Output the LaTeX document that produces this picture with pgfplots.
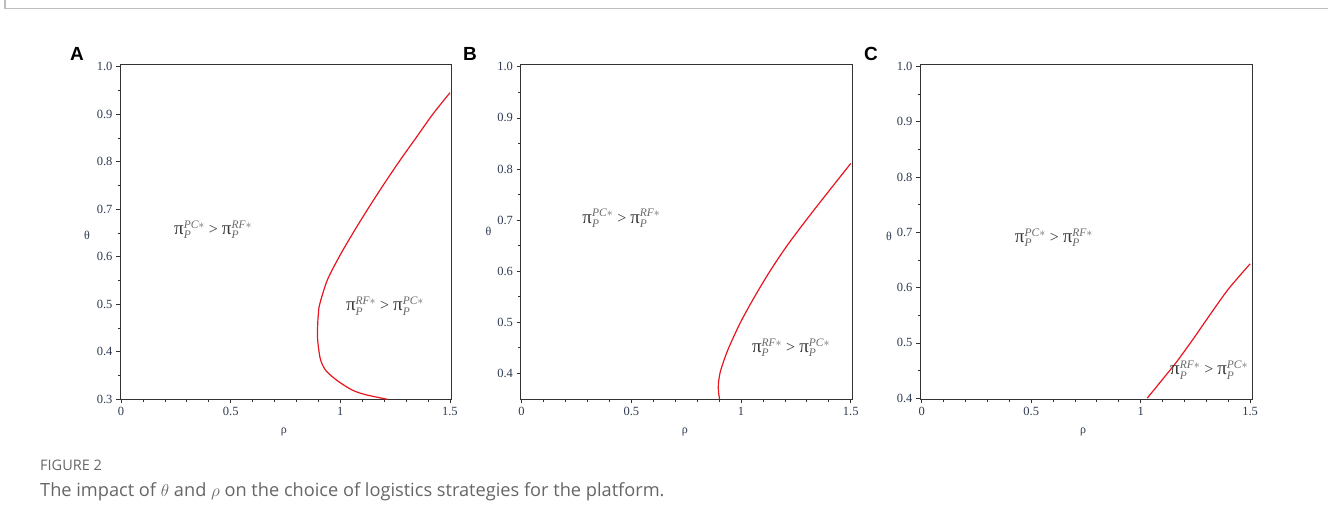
\documentclass[border=0pt]{standalone}
\usepackage{fontspec}
\usepackage{amsmath}
\setmainfont{Liberation Serif}
\newfontfamily\capfont{Open Sans}
\newfontfamily\letterfont{Liberation Sans}
\usepackage{pgfplots}
\pgfplotsset{compat=1.18}
\definecolor{axgray}{HTML}{333333}
\definecolor{ticklab}{HTML}{2E3A50}
\definecolor{curve}{HTML}{E8141E}
\definecolor{lbl}{HTML}{383838}
\definecolor{lblsc}{HTML}{6A6A6A}
\definecolor{framegray}{HTML}{BDBDBD}
\definecolor{capgray}{HTML}{666666}
\newcommand{\pis}[1]{{\fontsize{19}{20}\selectfont π}{\color{lblsc}${\vphantom{\rule[-2.5pt]{0pt}{12.5pt}}}^{\text{\fontsize{11.5}{12}\selectfont\itshape #1$\ast$}}_{\text{\fontsize{11.5}{12}\selectfont\itshape P}}$}}
\newcommand{\pilab}[2]{{\fontsize{16}{18}\selectfont\color{lbl}\pis{#1}\ >\ \pis{#2}}}
\pgfplotsset{maple/.style={
  scale only axis, clip=false, anchor=south west,
  axis line style={draw=axgray, line width=1pt},
  tick align=outside, xtick pos=left, ytick pos=left,
  major tick length=4pt, minor tick length=2.5pt,
  every tick/.style={draw=axgray, line width=0.8pt},
  xtick={0,0.5,1,1.5}, xticklabels={0,0.5,1,1.5},
  minor xtick={0.1,0.2,0.3,0.4,0.6,0.7,0.8,0.9,1.1,1.2,1.3,1.4},
  yticklabel={\pgfmathprintnumber[fixed,fixed zerofill,precision=1]{\tick}},
  ticklabel style={font=\rmfamily\fontsize{12.5}{14}\selectfont, text=ticklab},
  /pgf/number format/assume math mode=true,
  height=335pt,
}}
\begin{document}
\begin{tikzpicture}
\path[use as bounding box] (0pt,0pt) rectangle (1328pt,527pt);
\draw[framegray, line width=1.8pt] (5pt,527pt) -- (5pt,518.5pt) -- (1328pt,518.5pt);

% Panel A
\begin{axis}[maple, at={(120pt,127.7pt)}, width=331pt,
  xmin=-0.005, xmax=1.505, ymin=0.3, ymax=1.005,
  ytick={0.3,0.4,0.5,0.6,0.7,0.8,0.9,1.0},
  minor ytick={0.35,0.45,0.55,0.65,0.75,0.85,0.95}]
\addplot[curve, line width=1.2pt, smooth, tension=0.5] coordinates {
(1.215,0.300) (1.113,0.310) (1.052,0.320) (0.984,0.340) (0.935,0.360)
(0.912,0.380) (0.903,0.400) (0.896,0.430) (0.897,0.460) (0.900,0.480)
(0.906,0.500) (0.940,0.550) (0.995,0.600) (1.058,0.650) (1.125,0.700)
(1.195,0.750) (1.268,0.800) (1.345,0.850) (1.422,0.900) (1.500,0.945)};
\node at (axis cs:0.42,0.657) {\pilab{PC}{RF}};
\node at (axis cs:1.204,0.496) {\pilab{RF}{PC}};
\node[font=\fontsize{12}{14}\selectfont, text=ticklab] at (rel axis cs:0,0.49) [xshift=-33pt] {θ};
\node[font=\fontsize{12}{14}\selectfont, text=ticklab] at (rel axis cs:0.495,0) [yshift=-33pt] {ρ};
\end{axis}
\node[font=\letterfont\bfseries\fontsize{19}{22}\selectfont] at (77pt,473pt) {A};

% Panel B
\begin{axis}[maple, at={(520.5pt,127.7pt)}, width=332pt,
  xmin=-0.005, xmax=1.508, ymin=0.349, ymax=1.005,
  ytick={0.4,0.5,0.6,0.7,0.8,0.9,1.0},
  minor ytick={0.45,0.55,0.65,0.75,0.85,0.95}]
\addplot[curve, line width=1.2pt, smooth, tension=0.5] coordinates {
(0.902,0.350) (0.897,0.365) (0.897,0.380) (0.904,0.400) (0.918,0.420)
(0.944,0.450) (0.998,0.500) (1.062,0.550) (1.132,0.600) (1.210,0.650)
(1.297,0.700) (1.388,0.750) (1.480,0.800) (1.500,0.811)};
\node at (axis cs:0.455,0.7035) {\pilab{PC}{RF}};
\node at (axis cs:1.228,0.45) {\pilab{RF}{PC}};
\node[font=\fontsize{12}{14}\selectfont, text=ticklab] at (rel axis cs:0,0.5) [xshift=-32pt] {θ};
\node[font=\fontsize{12}{14}\selectfont, text=ticklab] at (rel axis cs:0.495,0) [yshift=-33pt] {ρ};
\end{axis}
\node[font=\letterfont\bfseries\fontsize{19}{22}\selectfont] at (470pt,473pt) {B};

% Panel C
\begin{axis}[maple, at={(920pt,127.7pt)}, width=332.7pt,
  xmin=-0.008, xmax=1.512, ymin=0.398, ymax=1.004,
  ytick={0.4,0.5,0.6,0.7,0.8,0.9,1.0},
  minor ytick={0.45,0.55,0.65,0.75,0.85,0.95}]
\addplot[curve, line width=1.2pt, smooth, tension=0.4] coordinates {
(1.030,0.400) (1.100,0.434) (1.165,0.466) (1.240,0.507) (1.317,0.551)
(1.400,0.597) (1.500,0.643)};
\node at (axis cs:0.604,0.69) {\pilab{PC}{RF}};
\node at (axis cs:1.313,0.451) {\pilab{RF}{PC}};
\node[font=\fontsize{12}{14}\selectfont, text=ticklab] at (rel axis cs:0,0.487) [xshift=-31pt] {θ};
\node[font=\fontsize{12}{14}\selectfont, text=ticklab] at (rel axis cs:0.49,0) [yshift=-33pt] {ρ};
\end{axis}
\node[font=\letterfont\bfseries\fontsize{19}{22}\selectfont] at (871pt,473pt) {C};

% Caption
\node[anchor=base west, font=\capfont\fontsize{14.5}{17}\selectfont, text=capgray, inner sep=0pt] at (40pt,56pt) {FIGURE 2};
\node[anchor=base west, font=\capfont\fontsize{18.2}{21}\selectfont, text=capgray, inner sep=0pt] at (40pt,30pt) {The impact of $\theta$ and $\rho$ on the choice of logistics strategies for the platform.};
\end{tikzpicture}
\end{document}
